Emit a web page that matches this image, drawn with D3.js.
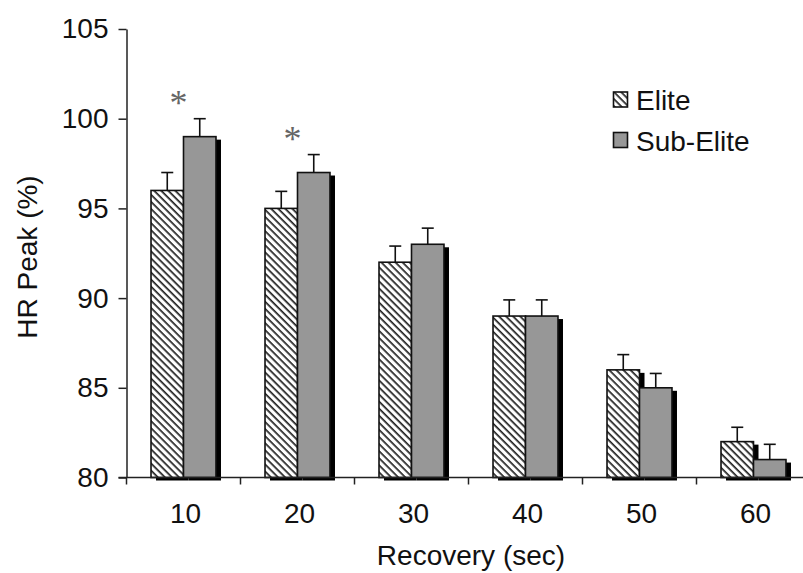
<!DOCTYPE html>
<html>
<head>
<meta charset="utf-8">
<script src="https://cdn.jsdelivr.net/npm/d3@7"></script>
<style>
  html, body { margin: 0; padding: 0; background: #fff; }
  svg { display: block; }
  text { font-family: "Liberation Sans", Arial, sans-serif; fill: #111; }
</style>
</head>
<body>
<svg id="chart" width="803" height="573"></svg>
<script>
// Recovery time points (sec)
const categories = ["10", "20", "30", "40", "50", "60"];
// Heart rate as % of peak, mean and SD per group
const eliteValues = [96, 95, 92, 89, 86, 82];
const eliteErrors = [1.0, 0.95, 0.9, 0.9, 0.85, 0.8];
const subEliteValues = [99, 97, 93, 89, 85, 81];
const subEliteErrors = [1.0, 1.0, 0.9, 0.9, 0.8, 0.85];
// Time points with a significant group difference
const significant = ["10", "20"];
const yTicks = [80, 85, 90, 95, 100, 105];

const svg = d3.select("#chart");

const x = d3.scaleBand()
  .domain(categories)
  .range([126.5, 810.5])
  .paddingInner(0.43)
  .paddingOuter(0.215);

const y = d3.scaleLinear().domain([80, 105]).range([477.5, 29]);

const half = x.bandwidth() / 2;
const gap = (x.step() - x.bandwidth()) / 2;

// Diagonal hatching (top-left to bottom-right) for the Elite bars
const defs = svg.append("defs");
const pat = defs.append("pattern")
  .attr("id", "hatch")
  .attr("patternUnits", "userSpaceOnUse")
  .attr("width", 5).attr("height", 5)
  .attr("patternTransform", "rotate(45)");
pat.append("rect").attr("width", 5).attr("height", 5).attr("fill", "#fff");
pat.append("rect").attr("x", 0).attr("y", 0).attr("width", 5).attr("height", 1.7).attr("fill", "#222");

const series = [
  { name: "Elite", values: eliteValues, errors: eliteErrors, fill: "url(#hatch)", offset: 0 },
  { name: "Sub-Elite", values: subEliteValues, errors: subEliteErrors, fill: "#979797", offset: half }
];

const rows = series.flatMap(s => categories.map((c, i) => ({
  cat: c, v: s.values[i], e: s.errors[i], fill: s.fill, x0: x(c) + s.offset
})));

// Drop shadows behind every bar
svg.append("g").selectAll("rect").data(rows).join("rect")
  .attr("x", d => d.x0 + 5)
  .attr("y", d => y(d.v) + 3)
  .attr("width", half)
  .attr("height", d => y(80) - y(d.v))
  .attr("fill", "#000");

// Bars
svg.append("g").selectAll("rect").data(rows).join("rect")
  .attr("x", d => d.x0)
  .attr("y", d => y(d.v))
  .attr("width", half)
  .attr("height", d => y(80) - y(d.v))
  .attr("fill", d => d.fill)
  .attr("stroke", "#111")
  .attr("stroke-width", 1.6);

// Error bars (upper side only)
const eb = svg.append("g").attr("stroke", "#111").attr("stroke-width", 1.6);
eb.selectAll("line.stem").data(rows).join("line")
  .attr("class", "stem")
  .attr("x1", d => d.x0 + half / 2).attr("x2", d => d.x0 + half / 2)
  .attr("y1", d => y(d.v)).attr("y2", d => y(d.v + d.e));
eb.selectAll("line.cap").data(rows).join("line")
  .attr("class", "cap")
  .attr("x1", d => d.x0 + half / 2 - 6).attr("x2", d => d.x0 + half / 2 + 6)
  .attr("y1", d => y(d.v + d.e)).attr("y2", d => y(d.v + d.e));

// Significance markers
svg.append("g").selectAll("text").data(significant).join("text")
  .attr("x", c => x(c) + x.bandwidth() / 2 - 5)
  .attr("y", c => {
    const i = categories.indexOf(c);
    return y(Math.max(eliteValues[i] + eliteErrors[i], subEliteValues[i] + subEliteErrors[i])) - 4;
  })
  .attr("text-anchor", "middle")
  .style("font-family", "'Liberation Serif', 'Times New Roman', serif")
  .style("font-size", "36px")
  .style("fill", "#666")
  .text("*");

// Y axis
const yAxis = svg.append("g")
  .attr("transform", "translate(126.5,0)")
  .call(d3.axisLeft(y).tickValues(yTicks).tickSize(8).tickPadding(10).tickSizeOuter(0));
yAxis.select(".domain").attr("stroke", "#222").attr("stroke-width", 1.5);
yAxis.selectAll(".tick line").attr("stroke", "#222").attr("stroke-width", 1.5);
yAxis.selectAll(".tick text").style("font-size", "28px").style("font-family", "'Liberation Sans', Arial, sans-serif").attr("fill", "#111");

// X axis: baseline, ticks at group boundaries, labels at group centres
const xg = svg.append("g");
xg.append("line")
  .attr("x1", 118.5).attr("x2", 803)
  .attr("y1", y(80)).attr("y2", y(80))
  .attr("stroke", "#222").attr("stroke-width", 1.5);
xg.selectAll("line.tick").data(categories).join("line")
  .attr("class", "tick")
  .attr("x1", c => x(c) - gap).attr("x2", c => x(c) - gap)
  .attr("y1", y(80)).attr("y2", y(80) + 7)
  .attr("stroke", "#222").attr("stroke-width", 1.5);
xg.selectAll("text").data(categories).join("text")
  .attr("x", c => x(c) + x.bandwidth() / 2 + 2)
  .attr("y", 523)
  .attr("text-anchor", "middle")
  .style("font-size", "28px")
  .text(c => c);

// Axis titles
svg.append("text")
  .attr("x", 471).attr("y", 565)
  .attr("text-anchor", "middle")
  .style("font-size", "28px")
  .text("Recovery (sec)");
svg.append("text")
  .attr("transform", "translate(37,257) rotate(-90)")
  .attr("text-anchor", "middle")
  .style("font-size", "28px")
  .text("HR Peak (%)");

// Legend
const legend = svg.append("g");
const legY = [92, 132.5];
legend.selectAll("rect").data(series).join("rect")
  .attr("x", 613.5)
  .attr("y", (d, i) => legY[i])
  .attr("width", 14).attr("height", 15)
  .attr("fill", d => d.fill)
  .attr("stroke", "#111").attr("stroke-width", 1.6);
legend.selectAll("text").data(series).join("text")
  .attr("x", 636)
  .attr("y", (d, i) => legY[i] + 18)
  .style("font-size", "28px")
  .text(d => d.name);
</script>
</body>
</html>
